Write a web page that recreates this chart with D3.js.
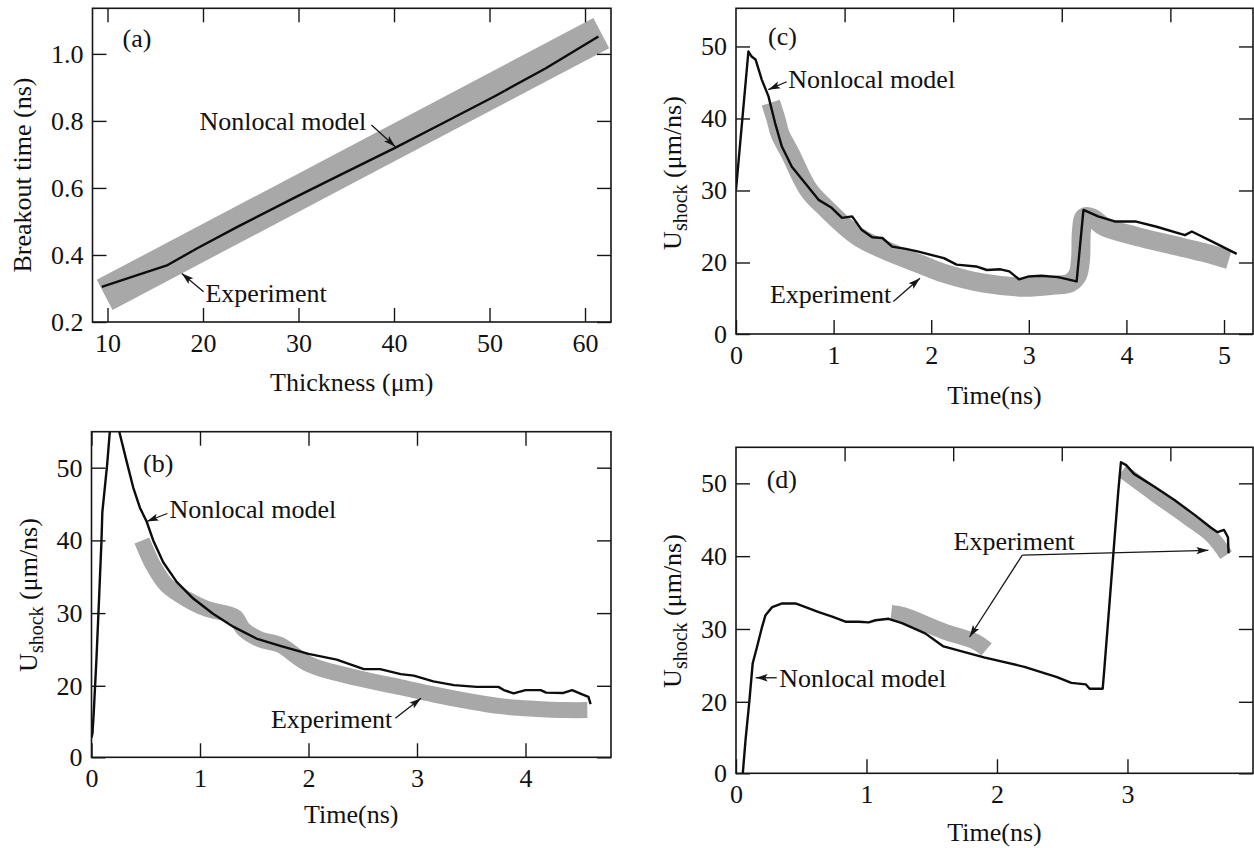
<!DOCTYPE html>
<html>
<head>
<meta charset="utf-8">
<script src="https://cdn.jsdelivr.net/npm/d3@7"></script>
<style>
  body { margin: 0; background: #fff; }
  svg { display: block; }
  text { font-family: "Liberation Serif", "Times New Roman", serif; fill: #111; }
</style>
</head>
<body>
<svg id="fig" width="1254" height="848"></svg>
<script>
// ---------- (a) breakout time vs. foil thickness ----------
const thicknessModel = [9.4, 12.8, 16.3, 19.4, 23.6, 29.8, 34.75, 40.0, 45.1, 50.5, 55.9, 61.4];
const breakoutModel  = [0.305, 0.337, 0.370, 0.420, 0.484, 0.574, 0.644, 0.718, 0.793, 0.873, 0.957, 1.052];
const thicknessExp   = [9.7, 35.0, 61.7];
const breakoutExp    = [0.281, 0.661, 1.062];

// ---------- (b) shock velocity history ----------
const timeModelB   = [0.0, 0.009, 0.021, 0.046, 0.07, 0.092, 0.10, 0.123, 0.144, 0.169, 0.21, 0.255, 0.323, 0.384, 0.446, 0.508, 0.569, 0.661, 0.785, 0.938, 1.12, 1.31, 1.52, 1.74, 2.0, 2.26, 2.51, 2.66, 2.85, 2.97, 3.15, 3.34, 3.55, 3.75, 3.80, 3.89, 4.0, 4.14, 4.19, 4.35, 4.43, 4.50, 4.58, 4.60];
const ushockModelB = [5.5, 6.7, 12.7, 23.8, 32.1, 40.0, 43.9, 47.3, 50.4, 55.0, 58.5, 55.0, 50.9, 47.3, 44.5, 42.6, 40.0, 37.0, 34.3, 32.0, 29.9, 28.1, 26.5, 25.5, 24.4, 23.6, 22.3, 22.3, 21.6, 21.4, 20.6, 20.1, 19.7, 19.7, 18.8, 17.9, 18.8, 18.8, 18.1, 18.0, 18.8, 17.9, 16.9, 14.9];
const timeExpB     = [0.465, 0.571, 0.695, 0.879, 1.06, 1.25, 1.33, 1.40, 1.55, 1.74, 2.0, 2.44, 2.85, 3.15, 3.46, 3.77, 4.07, 4.38, 4.57];
const ushockExpB   = [40.0, 36.5, 33.8, 31.9, 30.6, 29.9, 29.4, 27.8, 26.4, 25.6, 23.0, 21.1, 19.6, 17.6, 15.8, 14.3, 13.6, 13.2, 13.2];

// ---------- (c) shock velocity history ----------
const timeModelC   = [0.0, 0.127, 0.16, 0.20, 0.264, 0.332, 0.40, 0.47, 0.572, 0.709, 0.846, 0.98, 1.086, 1.19, 1.29, 1.395, 1.50, 1.60, 1.74, 1.87, 2.13, 2.26, 2.46, 2.57, 2.71, 2.80, 2.90, 3.0, 3.13, 3.30, 3.49, 3.56, 3.71, 3.88, 4.09, 4.30, 4.60, 4.67, 4.88, 5.13];
const ushockModelC = [30.1, 49.3, 48.6, 48.2, 45.4, 43.1, 39.4, 36.1, 33.3, 31.0, 28.7, 27.6, 26.2, 26.4, 24.5, 23.5, 23.4, 22.2, 21.9, 21.5, 20.6, 19.4, 18.9, 17.9, 18.1, 17.5, 15.3, 16.1, 16.3, 15.9, 14.7, 27.3, 26.4, 25.7, 25.7, 25.0, 23.8, 24.3, 22.9, 21.2];
const timeExpC     = [0.356, 0.41, 0.45, 0.553, 0.743, 0.915, 1.25, 1.60, 1.90, 2.13, 2.54, 2.955, 3.26, 3.42, 3.50, 3.53, 3.54, 3.57, 3.65, 3.77, 4.11, 4.45, 4.79, 5.05];
const ushockExpC   = [42.2, 39.9, 37.9, 35.2, 30.1, 27.6, 23.6, 21.3, 19.4, 17.0, 14.2, 13.1, 13.7, 14.3, 16.5, 20.5, 24.5, 26.3, 26.2, 25.0, 23.6, 22.5, 21.4, 20.4];

// ---------- (d) shock velocity history ----------
const timeModelD   = [0.052, 0.073, 0.103, 0.128, 0.162, 0.20, 0.226, 0.277, 0.354, 0.456, 0.533, 0.634, 0.737, 0.839, 0.94, 1.017, 1.069, 1.17, 1.272, 1.45, 1.59, 1.90, 2.21, 2.46, 2.57, 2.68, 2.71, 2.81, 2.82, 2.86, 2.90, 2.93, 2.95, 2.99, 3.05, 3.21, 3.36, 3.52, 3.64, 3.69, 3.74, 3.77, 3.775];
const ushockModelD = [0.0, 9.3, 20.2, 25.3, 27.6, 30.3, 31.9, 33.0, 33.5, 33.5, 33.0, 32.3, 31.7, 31.0, 31.0, 30.9, 31.2, 31.4, 30.8, 29.4, 27.6, 26.1, 24.8, 23.4, 22.6, 22.4, 21.8, 21.8, 23.9, 33.0, 42.2, 49.0, 52.9, 52.5, 51.3, 49.5, 47.7, 45.6, 43.9, 43.3, 43.6, 42.6, 40.4];
const timeExpD1    = [1.19, 1.283, 1.59, 1.84, 1.92];
const ushockExpD1  = [32.2, 31.9, 29.7, 28.2, 27.2];
const timeExpD2    = [2.96, 3.21, 3.47, 3.64, 3.756];
const ushockExpD2  = [51.7, 48.4, 45.1, 42.8, 40.15];

// ---------- tick values ----------
const thicknessTicks = [10, 20, 30, 40, 50, 60];
const breakoutTicks  = [0.2, 0.4, 0.6, 0.8, 1.0];
const ushockTicks    = [0, 20, 30, 40, 50];
const timeTicksB     = [0, 1, 2, 3, 4];
const timeTicksC     = [0, 1, 2, 3, 4, 5];
const timeTicksD     = [0, 1, 2, 3];
const topTicksCD     = [1, 2, 3, 4];

// ---------- annotation texts ----------
const modelLabel = "Nonlocal model";
const expLabel   = "Experiment";

const svg = d3.select("#fig");
const FONT = 26;
const TICK = 14;
const GREY = "#a8a8a8";
const INK = "#161616";

// arrowhead used by the annotation leaders
svg.append("defs").append("marker")
  .attr("id", "head")
  .attr("markerUnits", "userSpaceOnUse")
  .attr("markerWidth", 13).attr("markerHeight", 9)
  .attr("refX", 12).attr("refY", 4.5)
  .attr("orient", "auto")
  .append("path")
  .attr("d", "M0,0.8 L12,4.5 L0,8.2 L2.6,4.5 Z")
  .attr("fill", INK);

function drawPanel(p) {
  const g = svg.append("g");
  const x = d3.scaleLinear().domain(p.xDomain).range([p.left, p.right]);
  const y = d3.scaleLinear().domain(p.yDomain).range(p.yRange);
  const xTop = p.topDomain
    ? d3.scaleLinear().domain(p.topDomain).range([p.left, p.right])
    : x;

  const clipId = "clip-" + p.id;
  g.append("clipPath").attr("id", clipId)
    .append("rect")
    .attr("x", p.left).attr("y", p.top)
    .attr("width", p.right - p.left).attr("height", p.bottom - p.top);

  const plot = g.append("g").attr("clip-path", `url(#${clipId})`);

  // experimental traces: broad grey bands
  p.exp.forEach(e => {
    plot.append("path")
      .datum(d3.zip(e.x, e.y))
      .attr("d", d3.line().x(d => x(d[0])).y(d => y(d[1]))
        .curve(e.x.length > 2 ? d3.curveCatmullRom.alpha(0.5) : d3.curveLinear))
      .attr("fill", "none")
      .attr("stroke", GREY)
      .attr("stroke-width", e.width)
      .attr("stroke-linecap", "butt")
      .attr("stroke-linejoin", "round");
  });

  // nonlocal model: thin black line
  plot.append("path")
    .datum(d3.zip(p.model.x, p.model.y))
    .attr("d", d3.line().x(d => x(d[0])).y(d => y(d[1])))
    .attr("fill", "none")
    .attr("stroke", "#0d0d0d")
    .attr("stroke-width", 2.4)
    .attr("stroke-linejoin", "round");

  // axes with inward ticks on all four sides
  const styleAxis = sel => {
    sel.select(".domain").remove();
    sel.selectAll(".tick line").attr("stroke", INK).attr("stroke-width", 1.4);
    sel.selectAll("text")
      .attr("font-family", "'Liberation Serif', 'Times New Roman', serif")
      .attr("font-size", FONT).attr("fill", "#111");
  };

  g.append("g").attr("transform", `translate(0,${p.bottom})`)
    .call(d3.axisBottom(x).tickValues(p.xTicks).tickSizeInner(-TICK).tickSizeOuter(0)
      .tickPadding(11.5).tickFormat(p.xFormat || d3.format("d")))
    .call(styleAxis);

  g.append("g").attr("transform", `translate(0,${p.top})`)
    .call(d3.axisTop(xTop).tickValues(p.topTicks).tickSizeInner(-TICK).tickSizeOuter(0)
      .tickFormat(""))
    .call(styleAxis);

  g.append("g").attr("transform", `translate(${p.left},0)`)
    .call(d3.axisLeft(y).tickValues(p.yTicks).tickSizeInner(-TICK).tickSizeOuter(0)
      .tickPadding(9).tickFormat(p.yFormat))
    .call(styleAxis);

  g.append("g").attr("transform", `translate(${p.right},0)`)
    .call(d3.axisRight(y).tickValues(p.yTicks).tickSizeInner(-TICK).tickSizeOuter(0)
      .tickFormat(""))
    .call(styleAxis);

  // frame
  g.append("rect")
    .attr("x", p.left).attr("y", p.top)
    .attr("width", p.right - p.left).attr("height", p.bottom - p.top)
    .attr("fill", "none").attr("stroke", INK).attr("stroke-width", 1.6);

  // x-axis title
  g.append("text")
    .attr("x", (p.left + p.right) / 2)
    .attr("y", p.bottom + p.xTitleGap)
    .attr("text-anchor", "middle")
    .attr("font-size", FONT)
    .text(p.xTitle);

  // y-axis title (rotated)
  const yt = g.append("text")
    .attr("transform", `translate(${p.left - p.yTitleGap},${p.yTitleCenter}) rotate(-90)`)
    .attr("text-anchor", "middle")
    .attr("font-size", FONT);
  if (p.yTitleSub) {
    yt.append("tspan").text(p.yTitle);
    yt.append("tspan").attr("font-size", 20).attr("dy", 6).text(p.yTitleSub);
    yt.append("tspan").attr("dy", -6).text(p.yTitleTail);
  } else {
    yt.text(p.yTitle);
  }

  // panel letter
  g.append("text")
    .attr("x", x(p.letterAt[0])).attr("y", y(p.letterAt[1]))
    .attr("font-size", FONT)
    .text(`(${p.id})`);

  // annotation labels and leaders
  p.notes.forEach(n => {
    g.append("text")
      .attr("x", x(n.at[0])).attr("y", y(n.at[1]))
      .attr("font-size", FONT)
      .text(n.text);
    n.arrows.forEach(a => {
      g.append("line")
        .attr("x1", x(a[0])).attr("y1", y(a[1]))
        .attr("x2", x(a[2])).attr("y2", y(a[3]))
        .attr("stroke", INK).attr("stroke-width", 1.3)
        .attr("marker-end", "url(#head)");
    });
  });
}

const ushockTitle = { yTitle: "U", yTitleSub: "shock", yTitleTail: " (\u03bcm/ns)" };

const panels = [
  {
    id: "a", left: 92.5, right: 611, top: 8.3, bottom: 322,
    xDomain: [8.43, 62.72], yDomain: [0.2, 1.136], yRange: [322, 8.3],
    xTicks: thicknessTicks, topTicks: thicknessTicks, yTicks: breakoutTicks,
    yFormat: d3.format(".1f"),
    model: { x: thicknessModel, y: breakoutModel },
    exp: [{ x: thicknessExp, y: breakoutExp, width: 34 }],
    xTitle: "Thickness (\u03bcm)", xTitleGap: 69,
    yTitle: "Breakout time (ns)", yTitleGap: 61.5, yTitleCenter: 175,
    letterAt: [11.57, 1.021],
    notes: [
      { text: modelLabel, at: [19.64, 0.773], arrows: [[37.64, 0.788, 40.14, 0.723]] },
      { text: expLabel, at: [20.26, 0.261], arrows: [[20.06, 0.290, 17.78, 0.345]] }
    ]
  },
  {
    id: "b", left: 91.5, right: 611, top: 431.7, bottom: 757.3,
    xDomain: [0, 4.788], yDomain: [0, 20, 54.95], yRange: [757.3, 685.8, 431.7],
    xTicks: timeTicksB, topTicks: timeTicksB, yTicks: ushockTicks,
    yFormat: d3.format("d"),
    model: { x: timeModelB, y: ushockModelB },
    exp: [{ x: timeExpB, y: ushockExpB, width: 16 }],
    xTitle: "Time(ns)", xTitleGap: 66,
    ...ushockTitle, yTitleGap: 55, yTitleCenter: 595,
    letterAt: [0.475, 49.4],
    notes: [
      { text: modelLabel, at: [0.719, 43.1], arrows: [[0.699, 43.7, 0.509, 42.6]] },
      { text: expLabel, at: [1.654, 8.2], arrows: [[2.80, 10.9, 3.037, 16.5]] }
    ]
  },
  {
    id: "c", left: 736, right: 1253, top: 8.3, bottom: 334,
    xDomain: [0, 5.297], yDomain: [0, 20, 55.3], yRange: [334, 262.5, 8.3],
    topDomain: [0, 4.761],
    xTicks: timeTicksC, topTicks: topTicksCD, yTicks: ushockTicks,
    yFormat: d3.format("d"),
    model: { x: timeModelC, y: ushockModelC },
    exp: [{ x: timeExpC, y: ushockExpC, width: 19 }],
    xTitle: "Time(ns)", xTitleGap: 70,
    ...ushockTitle, yTitleGap: 55.5, yTitleCenter: 173,
    letterAt: [0.328, 50.2],
    notes: [
      { text: modelLabel, at: [0.536, 44.2], arrows: [[0.519, 45.1, 0.331, 44.0]] },
      { text: expLabel, at: [0.348, 8.6], arrows: [[1.612, 9.06, 1.885, 15.6]] }
    ]
  },
  {
    id: "d", left: 736, right: 1253, top: 447.3, bottom: 773.3,
    xDomain: [0, 3.962], yDomain: [0, 20, 54.95], yRange: [773.3, 701.8, 447.3],
    topDomain: [0, 4.761],
    xTicks: timeTicksD, topTicks: topTicksCD, yTicks: ushockTicks,
    yFormat: d3.format("d"),
    model: { x: timeModelD, y: ushockModelD },
    exp: [
      { x: timeExpD1, y: ushockExpD1, width: 16 },
      { x: timeExpD2, y: ushockExpD2, width: 14 }
    ],
    xTitle: "Time(ns)", xTitleGap: 67.5,
    ...ushockTitle, yTitleGap: 55.5, yTitleCenter: 611,
    letterAt: [0.235, 49.4],
    notes: [
      { text: modelLabel, at: [0.332, 22.1], arrows: [[0.312, 23.3, 0.151, 23.3]] },
      { text: expLabel, at: [1.667, 40.8],
        arrows: [[2.194, 40.15, 1.79, 28.9], [2.194, 40.15, 3.62, 40.8]] }
    ]
  }
];

panels.forEach(drawPanel);
</script>
</body>
</html>
